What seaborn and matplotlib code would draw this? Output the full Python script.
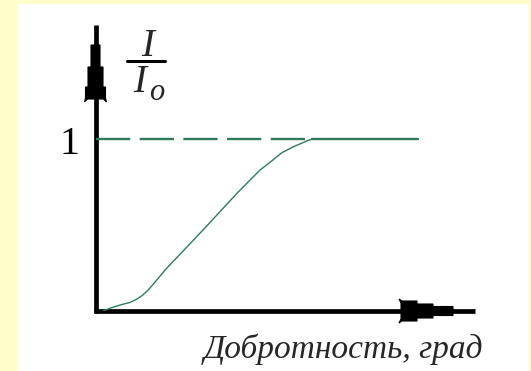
import matplotlib
matplotlib.use("Agg")
import matplotlib.pyplot as plt
from matplotlib.patches import Rectangle, Polygon
import seaborn as sns
import pandas as pd

# Transmitted-intensity ratio I/I0 versus quality (Q-factor)
quality = [2.0, 4.3, 6.5, 9.1, 10.8, 12.3, 13.7, 14.9, 16.6, 18.3, 28.3, 37.3, 43.4,
           46.0, 49.1, 52.0, 54.4, 56.0, 57.0, 85.0]
ratio = [0.0, 0.020, 0.035, 0.050, 0.068, 0.090, 0.118, 0.148, 0.192, 0.238, 0.471,
         0.686, 0.822, 0.866, 0.922, 0.955, 0.978, 0.994, 1.0, 1.0]
saturation_level = 1.0
saturation_start = 57.0

x_label = "Добротность, град"
y_tick_label = "1"

W, H = 531, 371
GREEN = "#2f7a5a"
PANEL_BG = "#ffffcc"

sns.set_theme(style="white")
plt.rcParams["font.family"] = ["Liberation Serif", "DejaVu Serif"]

fig = plt.figure(figsize=(W / 100, H / 100), dpi=100)
fig.patch.set_facecolor(PANEL_BG)

# overlay in pixel coordinates for the frame, arrows and labels
deco = fig.add_axes([0, 0, 1, 1], zorder=0)
deco.set_xlim(0, W)
deco.set_ylim(H, 0)
deco.axis("off")
deco.add_patch(Rectangle((18, 4), 511, 367, facecolor="white", edgecolor="none"))

# data axes: origin at (95.5, 311), x to 475, y to 25 in pixels
x0, y0, x1, y1 = 95.5, 311.0, 475.0, 25.0
ax = fig.add_axes([x0 / W, (H - y0) / H, (x1 - x0) / W, (y0 - y1) / H], zorder=2)
ax.patch.set_alpha(0)
ax.set_xlim(0, 100)
ax.set_ylim(0, (y0 - y1) / 171.7)
for s in ax.spines.values():
    s.set_visible(False)
ax.set_xticks([])
ax.set_yticks([])

df = pd.DataFrame({"quality": quality, "ratio": ratio})
sns.lineplot(data=df, x="quality", y="ratio", ax=ax, color=GREEN, linewidth=1.0,
             estimator=None, sort=False)
# saturated part drawn thicker
sat = df[df["quality"] >= saturation_start]
sns.lineplot(data=sat, x="quality", y="ratio", ax=ax, color=GREEN, linewidth=1.7,
             estimator=None, sort=False)
# dashed reference level
ax.plot([0, saturation_start], [saturation_level, saturation_level], color=GREEN,
        linewidth=1.7, dashes=(14.5, 4))
ax.set_xlabel("")
ax.set_ylabel("")

# axis lines with stepped arrowheads (pixel coords)
deco.plot([x0, x0], [y0 + 2, y1], color="black", linewidth=3.4, solid_capstyle="butt", zorder=3)
deco.plot([x0 - 1.5, x1], [y0, y0], color="black", linewidth=3.4, solid_capstyle="butt", zorder=3)

cx = x0
yarrow = [(cx - 3, 45), (cx + 3, 45), (cx + 4.5, 45), (cx + 4.5, 67),
          (cx + 7.5, 67), (cx + 7.5, 87), (cx + 10, 87), (cx + 10, 98), (cx + 11, 102),
          (cx + 8, 99), (cx - 8, 99), (cx - 11, 102), (cx - 10, 98), (cx - 10, 87),
          (cx - 7.5, 87), (cx - 7.5, 67), (cx - 4.5, 67), (cx - 4.5, 45)]
deco.add_patch(Polygon(yarrow, closed=True, facecolor="black", edgecolor="black",
                       linewidth=0.8, zorder=4))
cy = y0
xarrow = [(453, cy - 4.5), (453, cy + 4.5), (433, cy + 4.5), (433, cy + 7), (417, cy + 7),
          (417, cy + 10), (402, cy + 10), (399, cy + 12), (401, cy + 8), (401, cy - 8),
          (399, cy - 12), (402, cy - 10), (417, cy - 10), (417, cy - 7), (433, cy - 7),
          (433, cy - 4.5)]
deco.add_patch(Polygon(xarrow, closed=True, facecolor="black", edgecolor="black",
                       linewidth=0.8, zorder=4))

# y tick label "1"
deco.text(69.5, 144, y_tick_label, fontsize=29, ha="center", va="center", color="black",
          fontfamily="Liberation Serif")

# I / I_o fraction label
deco.text(148, 46, "I", fontsize=28, style="italic", ha="center", va="center",
          fontfamily="Liberation Serif")
deco.plot([127, 165], [61, 61], color="black", linewidth=2.2, zorder=3)
deco.text(140, 82, "I", fontsize=28, style="italic", ha="center", va="center",
          fontfamily="Liberation Serif")
deco.text(157, 93, "o", fontsize=22, style="italic", ha="center", va="center",
          fontfamily="Liberation Serif")

# x axis title
deco.text(343, 349, x_label, fontsize=24, style="italic", ha="center", va="center",
          fontfamily="Liberation Serif")

fig.savefig("out.png", dpi=100, facecolor=fig.get_facecolor())
